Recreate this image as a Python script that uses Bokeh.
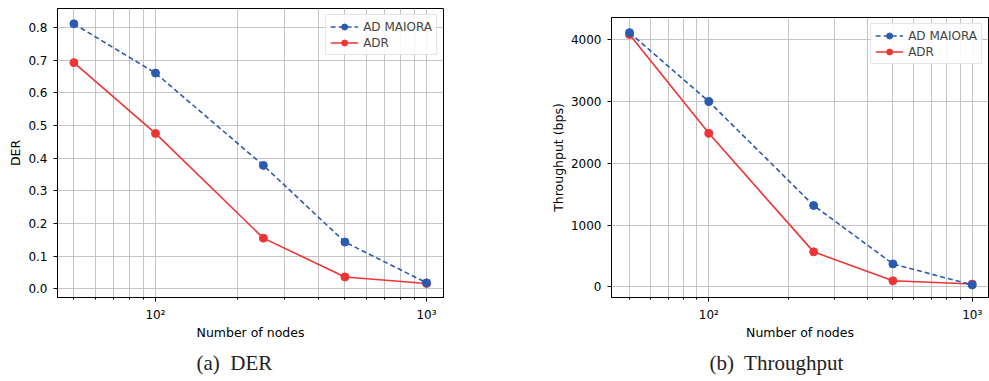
from bokeh.plotting import figure
from bokeh.layouts import row, column
from bokeh.models import FixedTicker, Range1d, Title, Legend, LegendItem, Spacer
from bokeh.embed import file_html
from bokeh.resources import INLINE

# ---- data ----
nodes = [50, 100, 250, 500, 1000]
der_maiora = [0.812, 0.661, 0.378, 0.143, 0.018]
der_adr = [0.693, 0.476, 0.155, 0.036, 0.016]
thr_maiora = [4115, 3000, 1316, 371, 30]
thr_adr = [4085, 2485, 566, 97, 45]
series_names = ["AD MAIORA", "ADR"]
x_major = [100, 1000]
x_major_labels = ["10²", "10³"]
x_minor = [40, 50, 60, 70, 80, 90, 200, 300, 400, 500, 600, 700, 800, 900]
der_ticks = [0.0, 0.1, 0.2, 0.3, 0.4, 0.5, 0.6, 0.7, 0.8]
thr_ticks = [0, 1000, 2000, 3000, 4000]
x_label = "Number of nodes"
y_labels = ["DER", "Throughput (bps)"]
captions = ["(a)\u00a0 DER", "(b)\u00a0 Throughput"]

BLUE = "#2a5bb0"
RED = "#ee3535"
GRID = "#c4c4c4"
FONT = "DejaVu Sans"
TICK_FS = "12px"
LAB_FS = "12.5px"
H = 380


def make_fig(width, height, xr, yr, mbl, mbr, mbt, mbb, yticks, ylab, fmt_ticks,
             y1, y2, caption, cap_offset):
    p = figure(width=width, height=height, x_axis_type="log",
               x_range=Range1d(*xr), y_range=Range1d(*yr),
               output_backend="svg", toolbar_location=None,
               min_border_left=mbl, min_border_right=mbr,
               min_border_top=mbt, min_border_bottom=mbb)
    p.outline_line_color = "black"
    p.outline_line_width = 1
    p.background_fill_color = "white"
    p.border_fill_color = "white"

    xa = p.xaxis[0]
    xa.ticker = FixedTicker(ticks=x_major, minor_ticks=x_minor)
    xa.major_label_overrides = dict(zip(x_major, x_major_labels))
    ya = p.yaxis[0]
    ya.ticker = FixedTicker(ticks=yticks)
    ya.major_label_overrides = {t: l for t, l in zip(yticks, fmt_ticks)}
    for ax in (xa, ya):
        ax.axis_line_color = "black"
        ax.major_tick_line_color = "black"
        ax.minor_tick_line_color = "black"
        ax.major_tick_out = 4
        ax.major_tick_in = 0
        ax.minor_tick_out = 2
        ax.minor_tick_in = 0
        ax.major_label_text_font = FONT
        ax.major_label_text_font_size = TICK_FS
        ax.major_label_text_color = "black"
        ax.axis_label_text_font = FONT
        ax.axis_label_text_font_size = LAB_FS
        ax.axis_label_text_font_style = "normal"
        ax.axis_label_text_color = "black"
        ax.major_label_standoff = 6
        ax.axis_label_standoff = 0
    ya.axis_label_standoff = 2
    xa.axis_label = x_label
    ya.axis_label = ylab

    p.xgrid.ticker = FixedTicker(ticks=x_major, minor_ticks=x_minor)
    p.xgrid.grid_line_color = GRID
    p.xgrid.minor_grid_line_color = GRID
    p.ygrid.grid_line_color = GRID
    p.ygrid.ticker = FixedTicker(ticks=yticks)

    # ADR first (drawn underneath), then AD MAIORA on top
    l2 = p.line(nodes, y2, line_color=RED, line_width=1.6)
    s2 = p.scatter(nodes, y2, size=8, fill_color=RED, line_color=RED)
    l1 = p.line(nodes, y1, line_color=BLUE, line_width=1.6, line_dash="5 3")
    s1 = p.scatter(nodes, y1, size=8, fill_color=BLUE, line_color=BLUE)

    leg = Legend(items=[LegendItem(label=series_names[0], renderers=[l1, s1]),
                        LegendItem(label=series_names[1], renderers=[l2, s2])],
                 location="top_right", margin=6, padding=4, spacing=1,
                 glyph_width=28, glyph_height=15, label_height=15,
                 label_standoff=5,
                 label_text_font=FONT, label_text_font_size="12px",
                 border_line_color="#cccccc", border_line_width=1,
                 background_fill_color="white", background_fill_alpha=0.85)
    p.add_layout(leg)

    t = Title(text=caption, align="left", offset=cap_offset,
              text_font="Liberation Serif", text_font_size="21px",
              text_font_style="normal", text_color="#222222", standoff=12)
    p.add_layout(t, "below")
    return p


# left panel: frame x 57..443, y 8..297
p1 = make_fig(456, H, (43.5, 1155), (-0.027, 0.859), 57, 13, 8, H - 297,
              der_ticks, y_labels[0], [f"{v:.1f}" for v in der_ticks],
              der_maiora, der_adr, captions[0], 139)
# right panel: frame x 611..988, y 17..298 (placed 9px lower via spacer)
p2 = make_fig(533, H - 9, (42.7, 1153), (-173, 4360), 155, 1, 8, H - 298,
              thr_ticks, y_labels[1], [str(v) for v in thr_ticks],
              thr_maiora, thr_adr, captions[1], 98)

layout = row(p1, column(Spacer(width=533, height=9), p2))
open("out.html", "w").write(file_html(layout, INLINE))
